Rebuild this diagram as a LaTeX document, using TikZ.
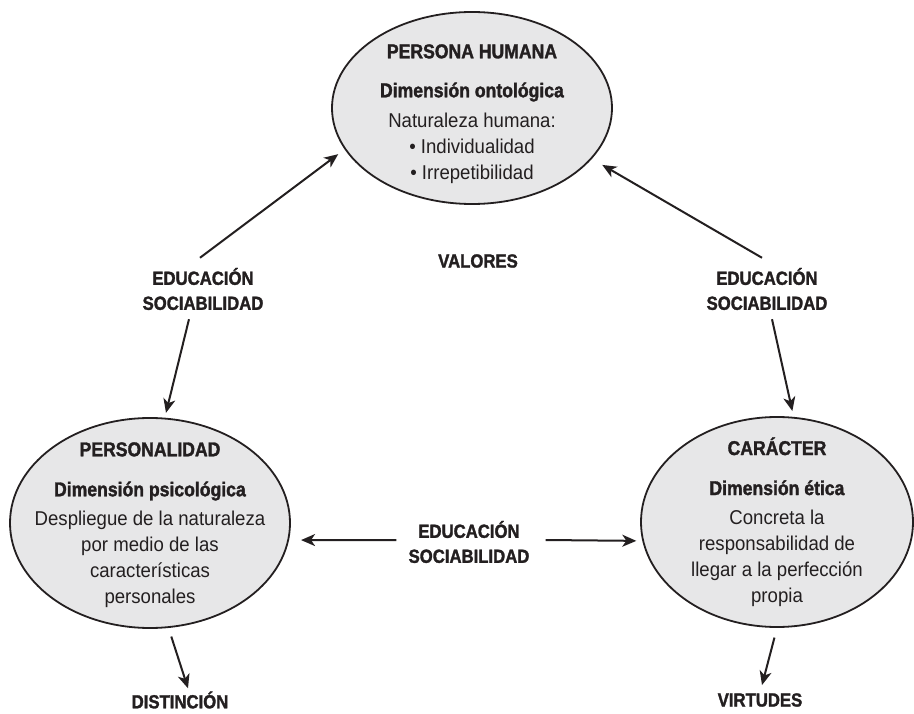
\documentclass[tikz,border=0pt]{standalone}
\usepackage{fontspec}
\setmainfont{Liberation Sans}[FakeStretch=0.93,BoldFeatures={FakeStretch=0.88,FakeBold=1.6}]
\usepackage{xcolor}
\usetikzlibrary{shapes.geometric}
\usetikzlibrary{positioning}
\usetikzlibrary{arrows.meta}
\definecolor{bubblefill}{RGB}{231,231,232}
\definecolor{ink}{RGB}{35,31,32}
\tikzset{
bubble/.style={
  ellipse,
  draw=ink,
  line width=1.8pt,
  fill=bubblefill,
  inner sep=0pt
},
bubbletext/.style={
  align=center,
  inner sep=0pt,
  text=ink,
  font=\fontsize{20}{26}\selectfont
},
flowlabel/.style={
  align=center,
  inner sep=0pt,
  text=ink,
  font=\fontsize{19}{25}\selectfont\bfseries
},
flow/.style={
  draw=ink,
  line width=2pt,
  -{Stealth[length=14pt,width=12pt,inset=4pt]}
},
}

\begin{document}
\begin{tikzpicture}[x=1pt,y=-1pt]
\useasboundingbox (0,0) rectangle (914,714);
% the ellipses
\node[bubble,minimum width=280pt,minimum height=192pt] (persona) at (472,108) {};
\node[bubble,minimum width=280pt,minimum height=210pt] (personalidad) at (150,523) {};
\node[bubble,minimum width=272pt,minimum height=210pt] (caracter) at (777,522) {};
% what is written inside
\node[bubbletext,below=33pt of persona.north] (personaTxt)
  {\textbf{PERSONA HUMANA}\\[13pt]
   \textbf{Dimensión ontológica}\\[4pt]
   Naturaleza humana:\\
   • Individualidad\\
   • Irrepetibilidad};
\node[bubbletext,below=25pt of personalidad.north] (personalidadTxt)
  {\textbf{PERSONALIDAD}\\[14pt]
   \textbf{Dimensión psicológica}\\[3pt]
   Despliegue de la naturaleza\\
   por medio de las\\
   características\\
   personales};
\node[bubbletext,below=21pt of caracter.north] (caracterTxt)
  {\textbf{CARÁCTER}\\[14pt]
   \textbf{Dimensión ética}\\[3pt]
   Concreta la\\
   responsabilidad de\\
   llegar a la perfección\\
   propia};
% the labels
\node[flowlabel] (eduIzq) at (203,289) {EDUCACIÓN\\SOCIABILIDAD};
\node[flowlabel] (eduDer) at (767,289) {EDUCACIÓN\\SOCIABILIDAD};
\node[flowlabel] (eduCen) at (469,542) {EDUCACIÓN\\SOCIABILIDAD};
\node[flowlabel] (valores) at (478,261) {VALORES};
\node[flowlabel] (distincion) at (180,700) {DISTINCIÓN};
\node[flowlabel] (virtudes) at (760,700) {VIRTUDES};
% the arrows
\begin{scope}[flow]
\draw[shorten >=8pt]  ([xshift=-3pt,yshift=10pt]eduIzq.north) -- (persona.198);
\draw[shorten >=5pt]  ([xshift=-14pt,yshift=-9pt]eduIzq.south) -- (personalidad.82);
\draw[shorten >=12pt] ([xshift=-5pt,yshift=10pt]eduDer.north) -- (persona.337);
\draw[shorten >=6pt]  ([xshift=5pt,yshift=-9pt]eduDer.south) -- (caracter.81);
\draw[shorten >=12pt] ([xshift=-12pt,yshift=2pt]eduCen.west) -- (personalidad.353);
\draw[shorten >=6pt]  ([xshift=16pt,yshift=2pt]eduCen.east) -- (caracter.188);
\draw[shorten <=9pt]  (personalidad.280) -- ([xshift=8pt,yshift=3pt]distincion.north);
\draw[shorten <=10pt] (caracter.south) -- ([xshift=2pt,yshift=8pt]virtudes.north);
\end{scope}
\end{tikzpicture}
\end{document}
